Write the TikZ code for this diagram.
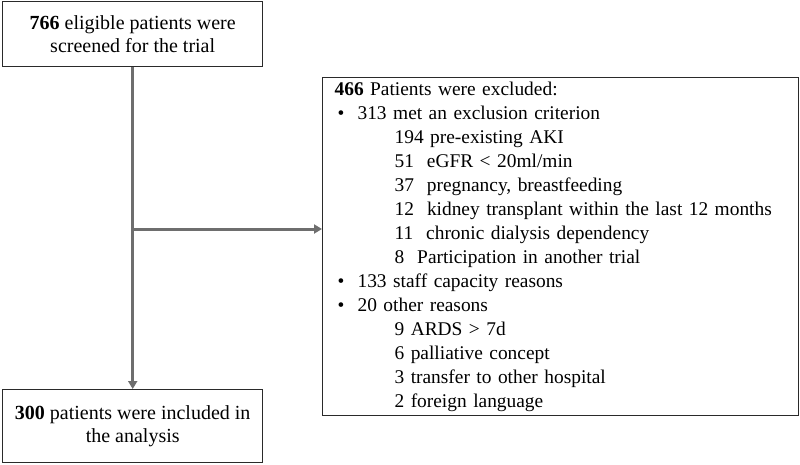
\documentclass[tikz,border=0pt]{standalone}
\usepackage{fontspec}
\setmainfont{Liberation Serif}
\usetikzlibrary{arrows.meta}
\definecolor{arrowgray}{HTML}{6E6E6E}
\definecolor{boxline}{HTML}{2A2A2A}
\tikzset{
  box/.style={draw=boxline, line width=1.4pt, inner sep=0pt, align=center,
    font=\fontsize{20}{23.5}\selectfont},
  flow/.style={draw=arrowgray, line width=3pt, -{Triangle[length=8pt,width=9pt]}},
  trunk/.style={draw=arrowgray, line width=3pt}
}
\begin{document}
\begin{tikzpicture}[x=1pt,y=-1pt]
\useasboundingbox (0,0) rectangle (800,464);
\node[box, minimum width=260pt, minimum height=65pt, anchor=north west] (screen) at (2,1)
  {{\bfseries 766} eligible patients were\\screened for the trial};
\node[box, minimum width=260pt, minimum height=73pt, anchor=north west] (incl) at (2,389)
  {{\bfseries 300} patients were included in\\the analysis};
\node[box, line width=1.2pt, anchor=north west, align=left, text width=452pt, inner xsep=12pt,
  minimum height=338pt, font=\fontsize{19.4}{24}\selectfont] (excl) at (322,77)
  {{\bfseries 466} Patients were excluded:\\
   \hspace*{3pt}\makebox[20pt][l]{•}313 met an exclusion criterion\\
   \hspace*{60pt}194 pre-existing AKI\\
   \hspace*{60pt}51\ \ eGFR < 20ml/min\\
   \hspace*{60pt}37\ \ pregnancy, breastfeeding\\
   \hspace*{60pt}12\hspace{13pt}kidney transplant within the last 12 months\\
   \hspace*{60pt}11\ \ chronic dialysis dependency\\
   \hspace*{60pt}8\ \ Participation in another trial\\
   \hspace*{3pt}\makebox[20pt][l]{•}133 staff capacity reasons\\
   \hspace*{3pt}\makebox[20pt][l]{•}20 other reasons\\
   \hspace*{60pt}9 ARDS > 7d\\
   \hspace*{60pt}6 palliative concept\\
   \hspace*{60pt}3 transfer to other hospital\\
   \hspace*{60pt}2 foreign language};
\coordinate (split) at (131,229);
\draw[flow] (screen.south) -- (incl.north);
\draw[flow] (split) -- (split -| excl.west);
\end{tikzpicture}
\end{document}
